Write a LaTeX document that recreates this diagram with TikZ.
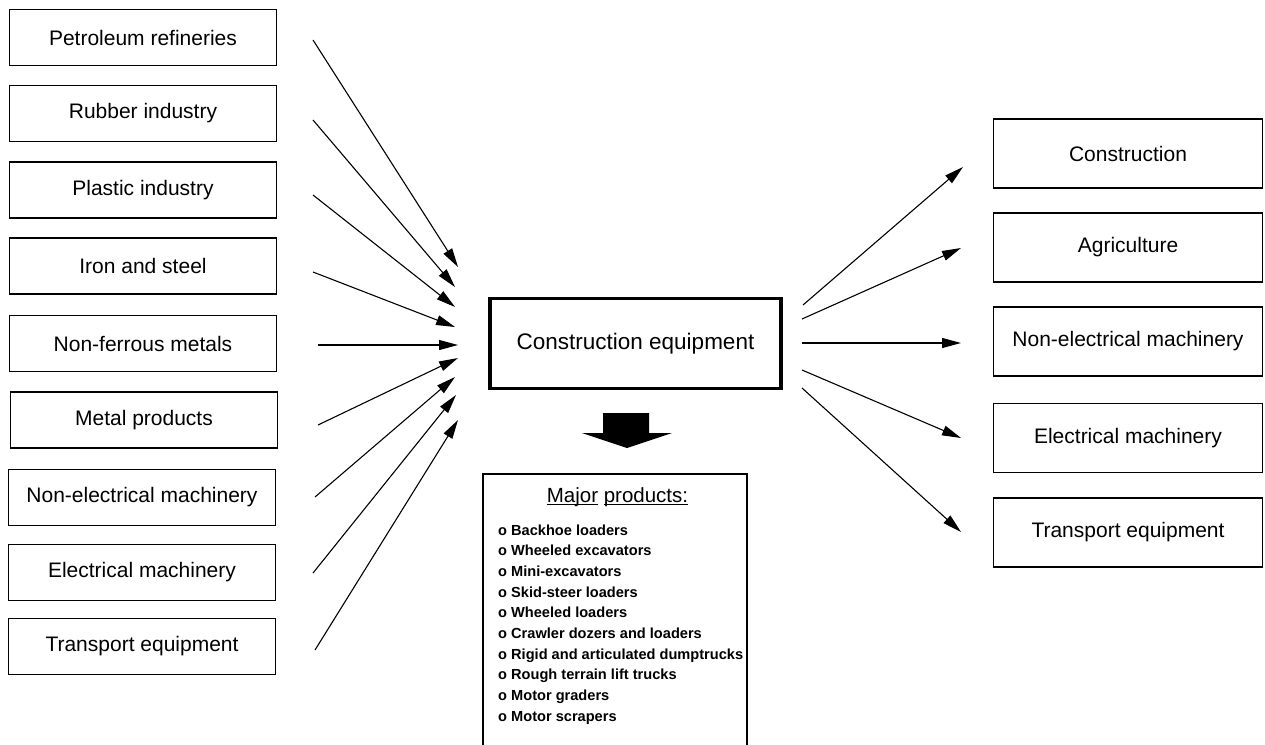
\documentclass[tikz,border=0pt]{standalone}
\usepackage{fontspec}
\setmainfont{Liberation Sans}
\usetikzlibrary{arrows.meta}
% underline that sits just below the baseline, crossing descenders
\newcommand\uword[1]{\setbox0\hbox{#1}\rlap{\rule[-3pt]{\wd0}{1.2pt}}\box0\relax}
\begin{document}
\begin{tikzpicture}[x=1pt,y=-1pt,
  box/.style={draw, line width=1.7pt, minimum width=267pt, minimum height=56pt,
              inner sep=0pt, font=\fontsize{21}{25}\selectfont},
  rbox/.style={box, minimum width=269pt, minimum height=69pt},
  hub/.style={draw, line width=3.5pt, minimum width=291pt, minimum height=90pt,
              inner sep=0pt, font=\fontsize{22.5}{27}\selectfont},
  listbox/.style={draw, line width=1.7pt, minimum width=264pt, minimum height=300pt,
              inner sep=0pt, anchor=north},
  flow/.style={line width=1.1pt, -{Triangle[length=19pt,width=10pt]}},
  item/.style={anchor=base west, inner sep=0pt, font=\bfseries\fontsize{14.6}{18}\selectfont},
]
\useasboundingbox (0,0) rectangle (1265,744);

% supplying industries
\node[box] (L1) at (143,37.5)  {Petroleum refineries};
\node[box] (L2) at (143,113.5) {Rubber industry};
\node[box] (L3) at (143,190)   {Plastic industry};
\node[box] (L4) at (143,266)   {Iron and steel};
\node[box] (L5) at (143,343.5) {Non-ferrous metals};
\node[box] (L6) at (144,420)   {Metal products};
\node[box] (L7) at (142,497.5) {Non-electrical machinery};
\node[box] (L8) at (142,572.5) {Electrical machinery};
\node[box] (L9) at (142,646.5) {Transport equipment};

% the central industry
\node[hub] (ce) at (635.5,343.5) {Construction equipment};

% user industries
\node[rbox] (R1) at (1128,153.5) {Construction};
\node[rbox] (R2) at (1128,247.5) {Agriculture};
\node[rbox] (R3) at (1128,341.5) {Non-electrical machinery};
\node[rbox] (R4) at (1128,438)   {Electrical machinery};
\node[rbox] (R5) at (1128,532.5) {Transport equipment};

% block arrow down to the product list
\fill (603,413) -- (649,413) -- (649,433) -- (672,433) -- (627,448)
      -- (582,433) -- (603,433) -- cycle;

% product list
\node[listbox] (pl) at (615,473) {};
\node[anchor=base, inner sep=0pt, font=\fontsize{20.5}{24}\selectfont] (pt) at (617.5,502)
  {\uword{Major} \uword{products:}};
\foreach \t [count=\i] in {Backhoe loaders, Wheeled excavators, Mini-excavators,
    Skid-steer loaders, Wheeled loaders, Crawler dozers and loaders,
    Rigid and articulated dumptrucks, Rough terrain lift trucks,
    Motor graders, Motor scrapers}
  \node[item] (p\i) at (498,514.3+\i*20.7) {o \t};

% inputs
\foreach \i/\sx/\sy/\ex/\ey in {1/313/40/458/267, 2/313/120/455/287, 3/313/195/455/307,
    4/313/272/455/327, 5/318/345/458/345, 6/318/425/458/358, 7/315/497/455/377,
    8/313/573/456/395, 9/315/650/458/420}{
  \coordinate (ls\i) at (\sx,\sy);
  \coordinate (le\i) at (\ex,\ey);
  \draw[flow] (ls\i) -- (le\i);
}

% outputs
\foreach \i/\sx/\sy/\ex/\ey in {1/803/305/963/167, 2/802/319/961/248, 3/802/343/961/343,
    4/802/370/961/438, 5/802/388/961/532}{
  \coordinate (os\i) at (\sx,\sy);
  \coordinate (oe\i) at (\ex,\ey);
  \draw[flow] (os\i) -- (oe\i);
}
\end{tikzpicture}
\end{document}
